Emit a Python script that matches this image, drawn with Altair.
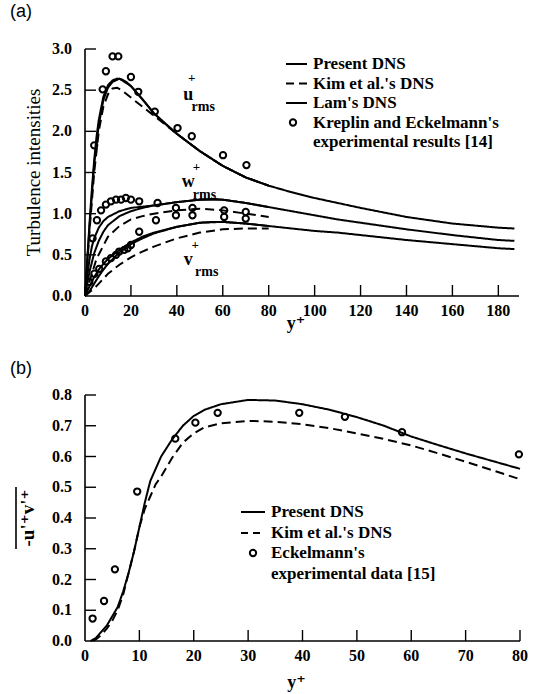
import altair as alt
import pandas as pd

SERIF = "Liberation Serif, Times New Roman, DejaVu Serif, serif"
SANS = "Liberation Sans, Arial, DejaVu Sans, sans-serif"

# ---------------- (a) turbulence intensities ----------------
u_present_x = [0, 1, 2, 3, 4, 5, 6, 8, 10, 12, 14, 16, 18, 20, 25, 30, 35, 40, 50, 60,
               70, 80, 90, 100, 110, 120, 140, 160, 180, 187]
u_present_y = [0, 0.45, 0.9, 1.3, 1.65, 1.93, 2.14, 2.42, 2.56, 2.62, 2.64, 2.63, 2.6, 2.55,
               2.39, 2.22, 2.09, 1.97, 1.76, 1.58, 1.44, 1.34, 1.26, 1.19, 1.13, 1.07, 0.96,
               0.88, 0.83, 0.82]
w_present_x = [0, 2, 4, 6, 8, 10, 15, 20, 25, 30, 40, 50, 56, 60, 70, 80, 90, 100, 110, 120,
               140, 160, 180, 187]
w_present_y = [0, 0.3, 0.52, 0.67, 0.78, 0.86, 0.97, 1.03, 1.07, 1.1, 1.14, 1.17, 1.18, 1.17,
               1.13, 1.08, 1.03, 0.98, 0.93, 0.89, 0.81, 0.74, 0.68, 0.67]
v_present_x = [0, 2, 4, 6, 8, 10, 15, 20, 25, 30, 40, 50, 56, 60, 70, 80, 90, 100, 110, 120,
               140, 160, 180, 187]
v_present_y = [0, 0.06, 0.15, 0.24, 0.32, 0.39, 0.53, 0.63, 0.7, 0.76, 0.84, 0.89, 0.9, 0.9,
               0.88, 0.85, 0.82, 0.79, 0.77, 0.74, 0.68, 0.63, 0.58, 0.57]

u_kim_x = [0, 2, 4, 6, 8, 10, 12, 14, 16, 20, 25, 30, 40, 50, 60, 70, 80]
u_kim_y = [0, 0.8, 1.5, 2.0, 2.3, 2.45, 2.52, 2.53, 2.5, 2.41, 2.3, 2.19, 1.97, 1.76, 1.58,
           1.44, 1.34]
w_kim_x = [0, 5, 10, 15, 20, 25, 30, 40, 50, 60, 70, 80]
w_kim_y = [0, 0.45, 0.72, 0.85, 0.93, 0.97, 1.0, 1.04, 1.06, 1.04, 1.0, 0.96]
v_kim_x = [0, 5, 10, 15, 20, 25, 30, 40, 50, 60, 70, 80]
v_kim_y = [0, 0.12, 0.27, 0.38, 0.47, 0.54, 0.6, 0.7, 0.77, 0.81, 0.82, 0.82]

u_lam_x = [0, 2, 4, 6, 8, 10, 12, 15, 20, 25, 30, 40, 50, 60, 70, 80]
u_lam_y = [0, 0.85, 1.6, 2.08, 2.38, 2.53, 2.6, 2.64, 2.55, 2.39, 2.22, 1.97, 1.76, 1.58,
           1.44, 1.34]
w_lam_x = [0, 1, 2, 3, 4, 6, 8, 10, 15, 20, 30, 40, 50, 60, 70, 80]
w_lam_y = [0, 0.25, 0.45, 0.6, 0.7, 0.83, 0.91, 0.96, 1.03, 1.07, 1.1, 1.14, 1.17, 1.17,
           1.13, 1.08]
v_lam_x = [0, 2, 4, 6, 8, 10, 15, 20, 25, 30, 40, 50, 60, 70, 80]
v_lam_y = [0, 0.12, 0.23, 0.32, 0.39, 0.45, 0.56, 0.65, 0.72, 0.77, 0.84, 0.89, 0.9, 0.88,
           0.85]

# Kreplin and Eckelmann measurements
u_exp_x = [4.0, 7.7, 9.1, 12.0, 14.5, 20.0, 23.2, 30.4, 40.3, 46.5, 60.1, 70.3]
u_exp_y = [1.83, 2.51, 2.73, 2.91, 2.91, 2.66, 2.48, 2.24, 2.04, 1.94, 1.71, 1.59]
w_exp_x = [3.3, 5.2, 7.0, 9.1, 11.3, 13.5, 15.7, 17.8, 20.0, 23.6, 31.6, 39.6, 46.8, 60.6, 70.0]
w_exp_y = [0.70, 0.92, 1.04, 1.11, 1.15, 1.17, 1.17, 1.19, 1.17, 1.15, 1.13, 1.07, 1.07, 1.04,
           1.02]
v_exp_x = [1.9, 4.1, 6.2, 9.1, 11.3, 13.5, 14.9, 17.1, 18.6, 20.0, 23.6, 30.9, 39.6, 46.8,
           60.6, 70.0]
v_exp_y = [0.17, 0.27, 0.33, 0.42, 0.46, 0.50, 0.54, 0.56, 0.58, 0.62, 0.78, 0.92, 0.98, 0.98,
           0.96, 0.94]

a_x_ticks = [0, 20, 40, 60, 80, 100, 120, 140, 160, 180]
a_y_ticks = [0.0, 0.5, 1.0, 1.5, 2.0, 2.5, 3.0]

# ---------------- (b) Reynolds shear stress ----------------
b_present_x = [1, 2, 3, 4, 5, 6, 7, 8, 9, 10, 11, 12, 13, 14, 16, 18, 20, 22, 25, 30, 35, 40,
               45, 50, 55, 60, 65, 70, 75, 80]
b_present_y = [0, 0.01, 0.03, 0.05, 0.08, 0.11, 0.16, 0.22, 0.29, 0.37, 0.45, 0.52, 0.56,
               0.6, 0.655, 0.7, 0.732, 0.752, 0.77, 0.784, 0.782, 0.77, 0.752, 0.728, 0.7,
               0.665, 0.637, 0.61, 0.585, 0.56]
b_kim_x = [1.5, 2, 3, 4, 5, 6, 7, 8, 9, 10, 11, 12, 13, 14, 16, 18, 20, 22, 25, 30, 35, 40,
           45, 50, 55, 60, 65, 70, 75, 80]
b_kim_y = [0, 0.005, 0.02, 0.04, 0.065, 0.1, 0.15, 0.22, 0.29, 0.37, 0.43, 0.47, 0.51, 0.535,
           0.595, 0.645, 0.675, 0.695, 0.708, 0.716, 0.713, 0.705, 0.692, 0.675, 0.657, 0.636,
           0.61, 0.583, 0.555, 0.526]
b_exp_x = [1.4, 3.5, 5.5, 9.6, 16.6, 20.3, 24.4, 39.4, 47.8, 58.3, 79.8]
b_exp_y = [0.073, 0.13, 0.233, 0.486, 0.658, 0.71, 0.742, 0.742, 0.729, 0.679, 0.607]

b_x_ticks = [0, 10, 20, 30, 40, 50, 60, 70, 80]
b_y_ticks = [0.0, 0.1, 0.2, 0.3, 0.4, 0.5, 0.6, 0.7, 0.8]


def curves(items):
    rows = []
    for name, style, xs, ys in items:
        for x, y in zip(xs, ys):
            rows.append({"x": x, "y": y, "curve": name, "style": style})
    return pd.DataFrame(rows)


def points(items):
    rows = []
    for xs, ys in items:
        for x, y in zip(xs, ys):
            rows.append({"x": x, "y": y})
    return pd.DataFrame(rows)


ONE = alt.Data(values=[{}])
DASH = {"Present": [1, 0], "Lam": [1, 0], "Kim": [9, 5]}
TICK_FONT = 16


def frame(xs, ys, xscale, yscale, width, height, xfmt, yfmt, xtitle_gap):
    """Axis lines, inward ticks, tick labels and the y+ title of one panel."""
    layers = []
    # axis lines
    layers.append(alt.Chart(ONE).mark_rule(color="black", strokeWidth=1.6).encode(
        x=alt.value(0), x2=alt.value(width), y=alt.value(height)))
    layers.append(alt.Chart(ONE).mark_rule(color="black", strokeWidth=1.6).encode(
        x=alt.value(0), y=alt.value(0), y2=alt.value(height)))
    # inward ticks
    layers.append(alt.Chart(pd.DataFrame({"t": xs[1:]})).mark_rule(
        color="black", strokeWidth=1.4).encode(
        x=alt.X("t:Q", scale=xscale, axis=None),
        y=alt.value(height), y2=alt.value(height - 11)))
    layers.append(alt.Chart(pd.DataFrame({"t": ys[1:]})).mark_rule(
        color="black", strokeWidth=1.4).encode(
        y=alt.Y("t:Q", scale=yscale, axis=None),
        x=alt.value(0), x2=alt.value(11)))
    # tick labels
    layers.append(alt.Chart(pd.DataFrame({"t": xs})).mark_text(
        baseline="alphabetic", align="center", font=SERIF, fontWeight="bold",
        fontSize=TICK_FONT, color="black").encode(
        x=alt.X("t:Q", scale=xscale, axis=None), y=alt.value(height + 20),
        text=alt.Text("t:Q", format=xfmt)))
    layers.append(alt.Chart(pd.DataFrame({"t": ys})).mark_text(
        baseline="middle", align="right", font=SERIF, fontWeight="bold",
        fontSize=TICK_FONT, color="black").encode(
        y=alt.Y("t:Q", scale=yscale, axis=None), x=alt.value(-13),
        text=alt.Text("t:Q", format=yfmt)))
    # x title
    layers.append(alt.Chart(ONE).mark_text(
        baseline="alphabetic", align="center", font=SERIF, fontWeight="bold",
        fontSize=18, color="black").encode(
        x=alt.value(width * 0.5 - 6), y=alt.value(height + xtitle_gap),
        text=alt.value("y⁺")))
    return layers


def label(text, x, y, size=17, weight="bold", font=SERIF, align="left"):
    return alt.Chart(ONE).mark_text(align=align, baseline="middle", font=font,
                                    fontSize=size, fontWeight=weight, color="black").encode(
        x=alt.value(x), y=alt.value(y), text=alt.value(text))


def seg(x1, x2, y, dash):
    return alt.Chart(ONE).mark_rule(color="black", strokeWidth=2, strokeDash=dash).encode(
        x=alt.value(x1), x2=alt.value(x2), y=alt.value(y))


def dot(x, y):
    return alt.Chart(ONE).mark_point(shape="circle", filled=False, color="black", size=40,
                                     strokeWidth=2, opacity=1).encode(
        x=alt.value(x), y=alt.value(y))


def note(text, x, y, xscale, yscale, size):
    return alt.Chart(pd.DataFrame({"x": [x], "y": [y]})).mark_text(
        align="center", baseline="middle", font=SERIF, fontSize=size, fontWeight="bold",
        color="black").encode(
        x=alt.X("x:Q", scale=xscale, axis=None), y=alt.Y("y:Q", scale=yscale, axis=None),
        text=alt.value(text))


def line_layer(df, xscale, yscale):
    return alt.Chart(df).mark_line(color="black", strokeWidth=2).encode(
        x=alt.X("x:Q", scale=xscale, axis=None),
        y=alt.Y("y:Q", scale=yscale, axis=None),
        detail="curve:N",
        strokeDash=alt.StrokeDash("style:N", legend=None,
                                  scale=alt.Scale(domain=list(DASH),
                                                  range=list(DASH.values()))),
    )


def point_layer(df, xscale, yscale):
    return alt.Chart(df).mark_point(shape="circle", filled=False, color="black", size=40,
                                    strokeWidth=2, opacity=1).encode(
        x=alt.X("x:Q", scale=xscale, axis=None), y=alt.Y("y:Q", scale=yscale, axis=None))


# ---- panel (a)
W_A, H_A = 434, 247
xa = alt.Scale(domain=[0, 189], nice=False, zero=False)
ya = alt.Scale(domain=[0, 3.0], nice=False, zero=False)

lines_a = curves([
    ("u_present", "Present", u_present_x, u_present_y),
    ("w_present", "Present", w_present_x, w_present_y),
    ("v_present", "Present", v_present_x, v_present_y),
    ("u_lam", "Lam", u_lam_x, u_lam_y),
    ("w_lam", "Lam", w_lam_x, w_lam_y),
    ("v_lam", "Lam", v_lam_x, v_lam_y),
    ("u_kim", "Kim", u_kim_x, u_kim_y),
    ("w_kim", "Kim", w_kim_x, w_kim_y),
    ("v_kim", "Kim", v_kim_x, v_kim_y),
])
pts_a = points([(u_exp_x, u_exp_y), (w_exp_x, w_exp_y), (v_exp_x, v_exp_y)])

notes_a = [
    note("u", 45, 2.44, xa, ya, 18), note("+", 46.5, 2.65, xa, ya, 13),
    note("rms", 51.5, 2.29, xa, ya, 14),
    note("w", 45, 1.38, xa, ya, 18), note("+", 48.5, 1.57, xa, ya, 13),
    note("rms", 52, 1.23, xa, ya, 14),
    note("v", 45, 0.44, xa, ya, 18), note("+", 48, 0.62, xa, ya, 13),
    note("rms", 53, 0.29, xa, ya, 14),
]

legend_a = [
    seg(201, 222, 15, [1, 0]), label("Present DNS", 228, 15),
    seg(201, 222, 34.5, [8, 5]), label("Kim et al.'s DNS", 228, 34.5),
    seg(201, 222, 54, [1, 0]), label("Lam's DNS", 228, 54),
    dot(208, 73.5), label("Kreplin and Eckelmann's", 228, 73.5),
    label("experimental results [14]", 228, 93),
]

ytitle_a = alt.Chart(ONE).mark_text(align="center", baseline="middle", font=SERIF, fontSize=19,
                                    fontWeight="normal", color="black", angle=270).encode(
    x=alt.value(-51), y=alt.value(H_A / 2), text=alt.value("Turbulence intensities"))

panel_a = alt.layer(
    line_layer(lines_a, xa, ya), point_layer(pts_a, xa, ya),
    *frame(a_x_ticks, a_y_ticks, xa, ya, W_A, H_A, "d", ".1f", 33),
    ytitle_a, *notes_a, *legend_a,
    label("(a)", -75, -37, size=18, weight="normal", font=SANS),
).properties(width=W_A, height=H_A)

# ---- panel (b)
W_B, H_B = 435, 246
xb = alt.Scale(domain=[0, 80], nice=False, zero=False)
yb = alt.Scale(domain=[0, 0.8], nice=False, zero=False)

lines_b = curves([
    ("present", "Present", b_present_x, b_present_y),
    ("kim", "Kim", b_kim_x, b_kim_y),
])
pts_b = points([(b_exp_x, b_exp_y)])

ytitle_b = alt.Chart(ONE).mark_text(align="center", baseline="middle", font=SERIF, fontSize=19,
                                    fontWeight="bold", color="black", angle=270).encode(
    x=alt.value(-57), y=alt.value(H_B / 2), text=alt.value("-u'⁺v'⁺"))
overline_b = alt.Chart(ONE).mark_rule(color="black", strokeWidth=1.6).encode(
    x=alt.value(-69), y=alt.value(H_B / 2 - 31), y2=alt.value(H_B / 2 + 31))

legend_b = [
    seg(156, 180, 117, [1, 0]), label("Present DNS", 186, 117),
    seg(156, 180, 138, [7, 5]), label("Kim et al.'s DNS", 186, 138),
    dot(168, 158), label("Eckelmann's", 186, 158),
    label("experimental data  [15]", 186, 179),
]

panel_b = alt.layer(
    line_layer(lines_b, xb, yb), point_layer(pts_b, xb, yb),
    *frame(b_x_ticks, b_y_ticks, xb, yb, W_B, H_B, "d", ".1f", 47),
    ytitle_b, overline_b, *legend_b,
    label("(b)", -75, -26, size=18, weight="normal", font=SANS),
).properties(width=W_B, height=H_B)

chart = alt.vconcat(panel_a, panel_b, spacing=99, bounds="flush").properties(
    padding={"left": 10, "top": 3, "right": 5, "bottom": 2}
).configure_view(stroke=None)

chart.save("out.html", embed_options={"renderer": "svg", "actions": False})
